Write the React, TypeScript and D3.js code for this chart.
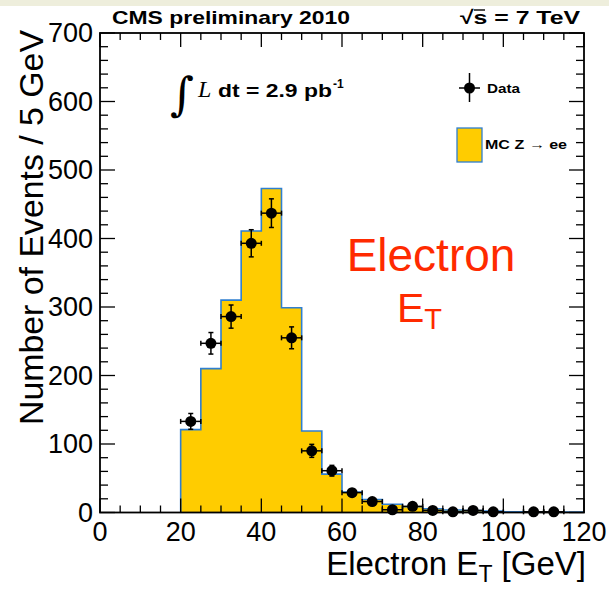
import React from "react";
import * as d3 from "d3";

// ---- data ----
const binLow = [20, 25, 30, 35, 40, 45, 50, 55, 60, 65, 70, 75, 80, 85, 90, 95, 100, 105, 110, 115];
const binWidth = 5;
const mcCounts = [121, 210, 310, 411, 473, 299, 119, 56, 30, 19, 12, 8.5, 5.5, 3.7, 2.7, 2, 1.2, 1, 0.8, 0.5];
const dataCounts = [133, 247, 286, 393, 437, 255, 90, 61, 29, 16, 4, 9, 3, 1, 3, 1, 0, 1, 1, 0];
const xTicks = [0, 20, 40, 60, 80, 100, 120];
const yTicks = [0, 100, 200, 300, 400, 500, 600, 700];

const W = 609;
const H = 589;
const FONT = "'Liberation Sans', Arial, Helvetica, sans-serif";

export default function App() {
  const x = d3.scaleLinear().domain([0, 120]).range([100, 584]);
  const y = d3.scaleLinear().domain([0, 700]).range([512.5, 33]);

  // MC histogram step path
  const pts: [number, number][] = [];
  pts.push([binLow[0], 0]);
  binLow.forEach((lo, i) => {
    pts.push([lo, mcCounts[i]]);
    pts.push([lo + binWidth, mcCounts[i]]);
  });
  pts.push([binLow[binLow.length - 1] + binWidth, 0]);
  const line = d3.line<[number, number]>().x((d) => x(d[0])).y((d) => y(d[1]));
  const histPath = line(pts) as string;
  const fillPath = histPath + "Z";

  const xMinor = d3.range(0, 121, 5);
  const yMinor = d3.range(0, 701, 20);
  const x0 = x(0), x1 = x(120), y0 = y(0), y1 = y(700);

  const isMajorX = (v: number) => v % 20 === 0;
  const isMajorY = (v: number) => v % 100 === 0;

  return (
    <svg width={W} height={H} style={{ position: "absolute", left: 0, top: 0, background: "#fff" }} fontFamily={FONT}>
      <rect x={0} y={0} width={W} height={6} fill="#eeeedc" />
      {/* MC histogram */}
      <path d={fillPath} fill="#ffcc00" stroke="none" />
      <path d={histPath} fill="none" stroke="#2f7fd0" strokeWidth={1.6} />

      {/* ticks */}
      <g stroke="#000" strokeWidth={1.3}>
        {xMinor.map((v) => {
          const L = isMajorX(v) ? 14 : 7;
          return (
            <g key={"xt" + v}>
              <line x1={x(v)} x2={x(v)} y1={y0} y2={y0 - L} />
              <line x1={x(v)} x2={x(v)} y1={y1} y2={y1 + L} />
            </g>
          );
        })}
        {yMinor.map((v) => {
          const L = isMajorY(v) ? 15 : 8;
          return (
            <g key={"yt" + v}>
              <line x1={x0} x2={x0 + L} y1={y(v)} y2={y(v)} />
              <line x1={x1} x2={x1 - L} y1={y(v)} y2={y(v)} />
            </g>
          );
        })}
      </g>
      <rect x={x0} y={y1} width={x1 - x0} height={y0 - y1} fill="none" stroke="#000" strokeWidth={1.8} />

      {/* data points */}
      <g stroke="#000" strokeWidth={1.5}>
        {binLow.map((lo, i) => {
          const n = dataCounts[i];
          if (n <= 0) return null;
          const c = lo + binWidth / 2;
          const cx = x(c), cy = y(n);
          const e = Math.sqrt(n);
          const yt = y(n + e), yb = y(Math.max(0, n - e));
          const xl = x(lo), xr = x(lo + binWidth);
          return (
            <g key={"d" + i}>
              <line x1={cx} x2={cx} y1={yt} y2={yb} />
              <line x1={cx - 2.5} x2={cx + 2.5} y1={yt} y2={yt} />
              <line x1={cx - 2.5} x2={cx + 2.5} y1={yb} y2={yb} />
              <line x1={xl} x2={xr} y1={cy} y2={cy} />
              <line x1={xl} x2={xl} y1={cy - 2.5} y2={cy + 2.5} />
              <line x1={xr} x2={xr} y1={cy - 2.5} y2={cy + 2.5} />
              <circle cx={cx} cy={cy} r={5.5} fill="#000" stroke="none" />
            </g>
          );
        })}
      </g>

      {/* tick labels */}
      {xTicks.map((v) => (
        <text key={"xl" + v} x={x(v)} y={541} fontSize={27} textAnchor="middle" fill="#000">
          {v}
        </text>
      ))}
      {yTicks.map((v) => (
        <text key={"yl" + v} x={93} y={y(v) + 9} fontSize={27} textAnchor="end" fill="#000">
          {v}
        </text>
      ))}

      {/* axis titles */}
      <text x={586} y={575} fontSize={33} textAnchor="end" fill="#000">
        Electron E<tspan fontSize={23} dy={7}>T</tspan>
        <tspan dy={-7}> [GeV]</tspan>
      </text>
      <text transform="translate(43,30) rotate(-90)" fontSize={33} textAnchor="end" fill="#000" textLength={395} lengthAdjust="spacingAndGlyphs">
        Number of Events / 5 GeV
      </text>

      {/* header */}
      <text x={112} y={24} fontSize={19} fontWeight="bold" fill="#000" textLength={238} lengthAdjust="spacingAndGlyphs">CMS preliminary 2010</text>
      <text x={460} y={24} fontSize={19} fontWeight="bold" fill="#000" textLength={120} lengthAdjust="spacingAndGlyphs">
        √s = 7 TeV
      </text>
      <line x1={474} x2={485} y1={10} y2={10} stroke="#000" strokeWidth={1.4} />

      {/* luminosity */}
      <text x={170} y={110} fontSize={46} fontFamily="'DejaVu Serif', serif" fill="#000">∫</text>
      <text x={198} y={97} fontSize={24} fontStyle="italic" fontFamily="'Liberation Serif', 'Times New Roman', serif" fill="#000">L</text>
      <text x={218} y={97} fontSize={19} fontWeight="bold" fill="#000" textLength={114} lengthAdjust="spacingAndGlyphs">dt = 2.9 pb</text>
      <text x={333} y={88} fontSize={12} fontWeight="bold" fill="#000">-1</text>

      {/* legend */}
      <g stroke="#000" strokeWidth={1.5}>
        <line x1={459} x2={480} y1={88} y2={88} />
        <line x1={469.5} x2={469.5} y1={73} y2={102} />
        <circle cx={469.5} cy={88} r={5.5} fill="#000" stroke="none" />
      </g>
      <text x={487} y={93} fontSize={13} fontWeight="bold" fill="#000" textLength={33} lengthAdjust="spacingAndGlyphs">Data</text>
      <rect x={457} y={128} width={25} height={34} fill="#ffcc00" stroke="#2f7fd0" strokeWidth={1.3} />
      <text x={485} y={149} fontSize={13} fontWeight="bold" fill="#000" textLength={82} lengthAdjust="spacingAndGlyphs">
        MC Z → ee
      </text>

      {/* annotation */}
      <text x={431} y={271} fontSize={46} textAnchor="middle" fill="#ff2a00">Electron</text>
      <text x={397} y={322} fontSize={41} fill="#ff2a00">
        E<tspan fontSize={29} dy={7}>T</tspan>
      </text>
    </svg>
  );
}
